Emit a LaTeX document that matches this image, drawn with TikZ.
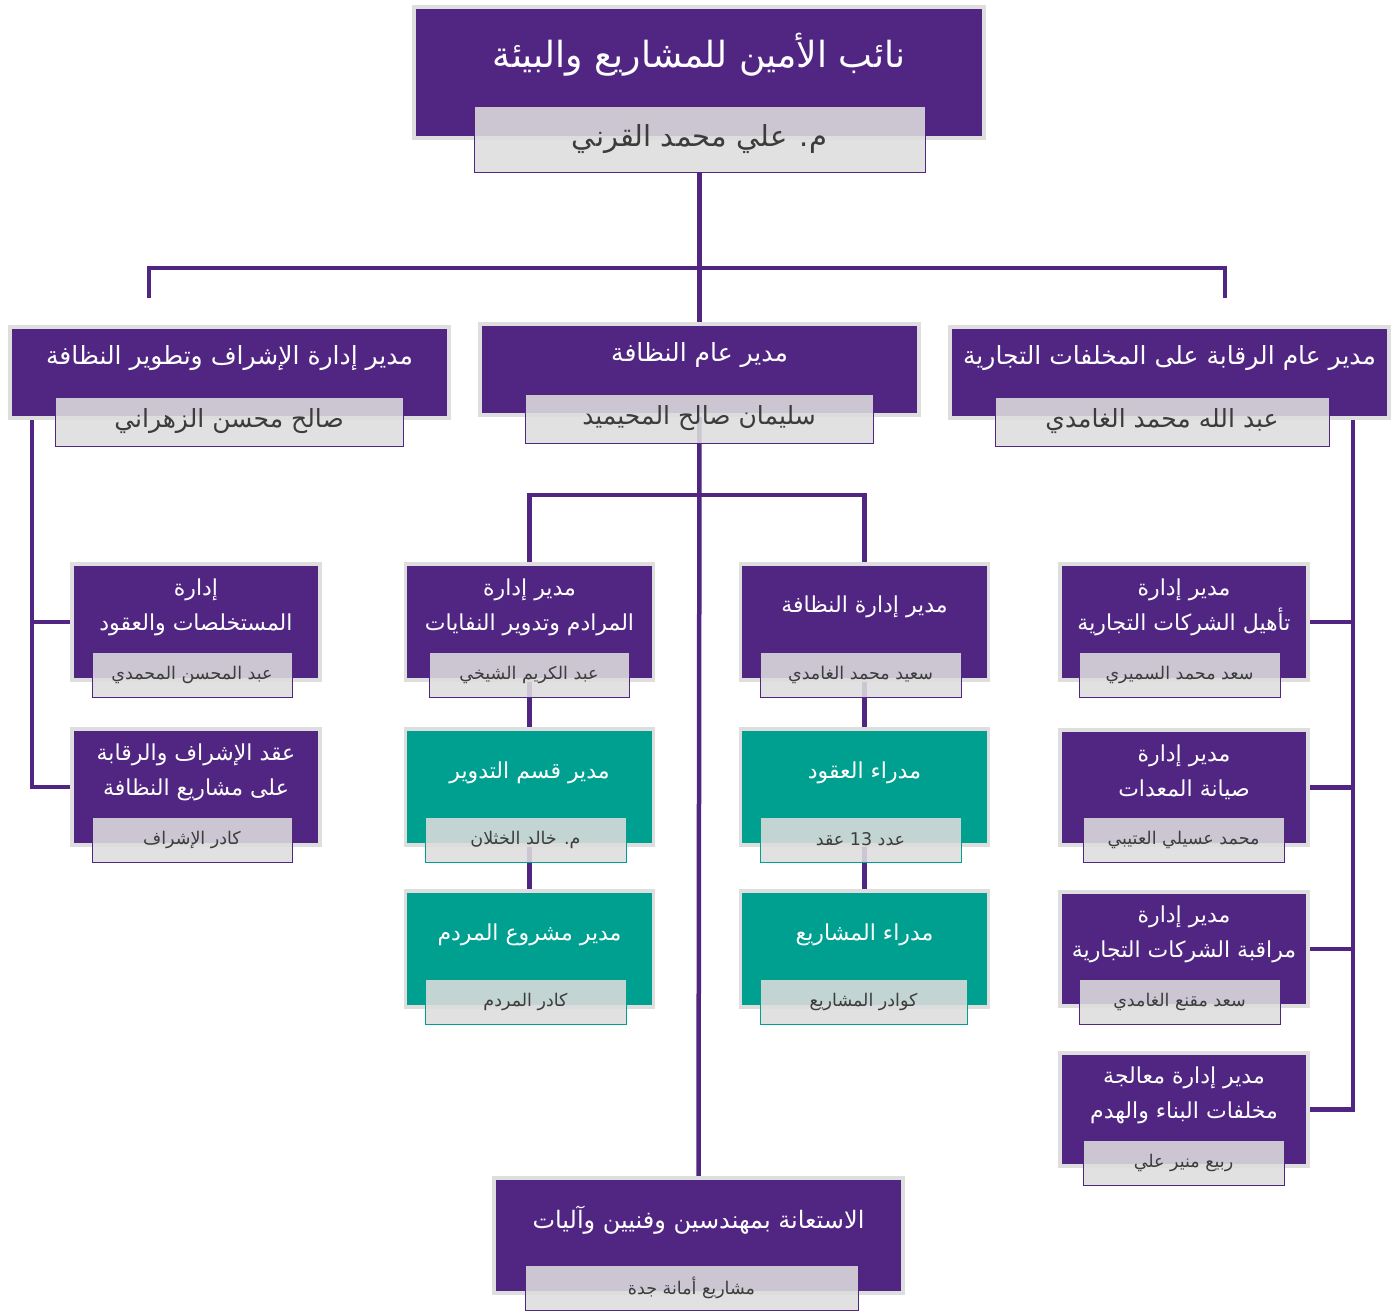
\documentclass[tikz,border=0pt]{standalone}
\usepackage{fontspec}
\newfontfamily\arabicfont[Script=Arabic]{DejaVu Sans}
\TeXXeTstate=1
\usetikzlibrary{backgrounds}
\definecolor{orgpurple}{HTML}{512683}
\definecolor{orgteal}{HTML}{00A091}
\definecolor{framegray}{HTML}{DEDEDE}
\definecolor{namegray}{HTML}{DDDDDD}
\definecolor{namefont}{HTML}{3C3C3C}
\newcommand{\arline}[1]{\beginR #1\endR}

\begin{document}
\begin{tikzpicture}[
    x=1pt, y=-1pt,
    box/.style={draw=framegray, line width=3.5pt, fill=orgpurple, inner sep=0pt},
    tealbox/.style={box, fill=orgteal},
    headtext/.style={text=white, align=center, inner sep=0pt},
    namebox/.style={draw=orgpurple, line width=0.8pt, fill=namegray, fill opacity=0.88,
                    text opacity=1, text=namefont, inner sep=0pt, minimum height=45},
    tealname/.style={namebox, draw=orgteal},
    link/.style={draw=orgpurple, line width=4.5pt},
    ftop/.style={font=\arabicfont\fontsize{36}{40}\selectfont},
    ftopname/.style={font=\arabicfont\fontsize{29}{34}\selectfont},
    fmid/.style={font=\arabicfont\fontsize{25}{30}\selectfont},
    fmidname/.style={font=\arabicfont\fontsize{25}{30}\selectfont},
    fsub/.style={font=\arabicfont\fontsize{22}{35}\selectfont},
    fsubname/.style={font=\arabicfont\fontsize{17.5}{20}\selectfont}
]
   \useasboundingbox (0,0) rectangle (1394,1312);

   % Top
   \node[box, minimum width=570, minimum height=131] (vp) at (699,72.5) {};
   \node[headtext, ftop] (vptitle) at (699,55) {\arline{نائب الأمين للمشاريع والبيئة}};
   \node[namebox, ftopname, minimum width=451, minimum height=66] (vpname) at (699.5,139) {\arline{م. علي محمد القرني}};

   % Second level
   \node[box, minimum width=439, minimum height=91] (supv) at (229.5,372.5) {};
   \node[headtext, fmid] (supvtitle) at (229.5,358) {\arline{مدير إدارة الإشراف وتطوير النظافة}};
   \node[namebox, fmidname, minimum width=348, minimum height=49] (supvname) at (229,421.5) {\arline{صالح محسن الزهراني}};

   \node[box, minimum width=439, minimum height=91] (clean) at (699.5,369.5) {};
   \node[headtext, fmid] (cleantitle) at (699.5,355) {\arline{مدير عام النظافة}};
   \node[namebox, fmidname, minimum width=348, minimum height=49] (cleanname) at (699,418.5) {\arline{سليمان صالح المحيميد}};

   \node[box, minimum width=439, minimum height=91] (waste) at (1169.5,372.5) {};
   \node[headtext, fmid] (wastetitle) at (1169.5,358) {\arline{مدير عام الرقابة على المخلفات التجارية}};
   \node[namebox, fmidname, minimum width=334, minimum height=49] (wastename) at (1162,421.5) {\arline{عبد الله محمد الغامدي}};

   % Left column
   \node[box, minimum width=248, minimum height=116] (claims) at (196,622) {};
   \node[headtext, fsub] (claimstitle) at (196,607) {\arline{إدارة}\\\arline{المستخلصات والعقود}};
   \node[namebox, fsubname, minimum width=200] (claimsname) at (192,674.5) {\arline{عبد المحسن المحمدي}};

   \node[box, minimum width=248, minimum height=116] (contract) at (196,787) {};
   \node[headtext, fsub] (contracttitle) at (196,772) {\arline{عقد الإشراف والرقابة}\\\arline{على مشاريع النظافة}};
   \node[namebox, fsubname, minimum width=200] (contractname) at (192,839.5) {\arline{كادر الإشراف}};

   % Landfills and recycling
   \node[box, minimum width=248, minimum height=116] (dump) at (529.5,622) {};
   \node[headtext, fsub] (dumptitle) at (529.5,607) {\arline{مدير إدارة}\\\arline{المرادم وتدوير النفايات}};
   \node[namebox, fsubname, minimum width=200] (dumpname) at (529,674.5) {\arline{عبد الكريم الشيخي}};

   \node[tealbox, minimum width=248, minimum height=116] (recyc) at (529.5,787) {};
   \node[headtext, fsub] (recyctitle) at (529.5,773) {\arline{مدير قسم التدوير}};
   \node[tealname, fsubname, minimum width=201] (recycname) at (525.5,839.5) {\arline{م. خالد الخثلان}};

   \node[tealbox, minimum width=248, minimum height=116] (dumpprj) at (529.5,949) {};
   \node[headtext, fsub] (dumpprjtitle) at (529.5,935) {\arline{مدير مشروع المردم}};
   \node[tealname, fsubname, minimum width=201] (dumpprjname) at (525.5,1001.5) {\arline{كادر المردم}};

   % Cleaning
   \node[box, minimum width=248, minimum height=116] (cln) at (864.5,622) {};
   \node[headtext, fsub] (clntitle) at (864.5,607) {\arline{مدير إدارة النظافة}};
   \node[namebox, fsubname, minimum width=201] (clnname) at (860.5,674.5) {\arline{سعيد محمد الغامدي}};

   \node[tealbox, minimum width=248, minimum height=116] (cmgr) at (864.5,787) {};
   \node[headtext, fsub] (cmgrtitle) at (864.5,773) {\arline{مدراء العقود}};
   \node[tealname, fsubname, minimum width=201] (cmgrname) at (860.5,839.5) {\arline{عدد \beginL 13\endL{} عقد}};

   \node[tealbox, minimum width=248, minimum height=116] (pmgr) at (864.5,949) {};
   \node[headtext, fsub] (pmgrtitle) at (864.5,935) {\arline{مدراء المشاريع}};
   \node[tealname, fsubname, minimum width=207] (pmgrname) at (863.5,1001.5) {\arline{كوادر المشاريع}};

   % Right column
   \node[box, minimum width=248, minimum height=116] (qual) at (1184,622) {};
   \node[headtext, fsub] (qualtitle) at (1184,607.5) {\arline{مدير إدارة}\\\arline{تأهيل الشركات التجارية}};
   \node[namebox, fsubname, minimum width=201] (qualname) at (1179.5,674.5) {\arline{سعد محمد السميري}};

   \node[box, minimum width=248, minimum height=115] (maint) at (1184,787.5) {};
   \node[headtext, fsub] (mainttitle) at (1184,772.5) {\arline{مدير إدارة}\\\arline{صيانة المعدات}};
   \node[namebox, fsubname, minimum width=201] (maintname) at (1183.5,839.5) {\arline{محمد عسيلي العتيبي}};

   \node[box, minimum width=248, minimum height=114] (monit) at (1184,949) {};
   \node[headtext, fsub] (monittitle) at (1184,934.5) {\arline{مدير إدارة}\\\arline{مراقبة الشركات التجارية}};
   \node[namebox, fsubname, minimum width=201] (monitname) at (1179.5,1002) {\arline{سعد مقنع الغامدي}};

   \node[box, minimum width=248, minimum height=113] (debris) at (1184,1109.5) {};
   \node[headtext, fsub] (debristitle) at (1184,1095) {\arline{مدير إدارة معالجة}\\\arline{مخلفات البناء والهدم}};
   \node[namebox, fsubname, minimum width=201] (debrisname) at (1183.5,1163) {\arline{ربيع منير علي}};

   % Bottom
   \node[box, minimum width=409, minimum height=115] (hire) at (698.5,1235.5) {};
   \node[headtext, font=\arabicfont\fontsize{24}{28}\selectfont] (hiretitle) at (698.5,1220) {\arline{الاستعانة بمهندسين وفنيين وآليات}};
   \node[namebox, fsubname, minimum width=333] (hirename) at (691.5,1287.5) {\arline{مشاريع أمانة جدة}};

   % Connectors
   \coordinate (jl) at (149,298);
   \coordinate (jr) at (1225,298);
   \coordinate (jtop) at (699,268);
   \coordinate (jmid) at (699,495);
   \coordinate (lv) at (32,400);
   \coordinate (rv) at (1353,400);

   \begin{scope}[on background layer]
   \draw[link] (vpname.south) -- (clean.north);
   \draw[link] (jl) |- (jtop) -| (jr);

   \draw[link] (lv) |- (claims.west);
   \draw[link] (lv) |- (contract.west);

   \draw[link] (clean.south) -- (hire.north);
   \draw[link] (dump.north) |- (jmid) -| (cln.north);
   \draw[link] (dump.south) -- (recyc.north);
   \draw[link] (recyc.south) -- (dumpprj.north);
   \draw[link] (cln.south) -- (cmgr.north);
   \draw[link] (cmgr.south) -- (pmgr.north);

   \draw[link] (rv) |- (qual.east);
   \draw[link] (rv) |- (maint.east);
   \draw[link] (rv) |- (monit.east);
   \draw[link] (rv) |- (debris.east);
   \end{scope}

\end{tikzpicture}
\end{document}
